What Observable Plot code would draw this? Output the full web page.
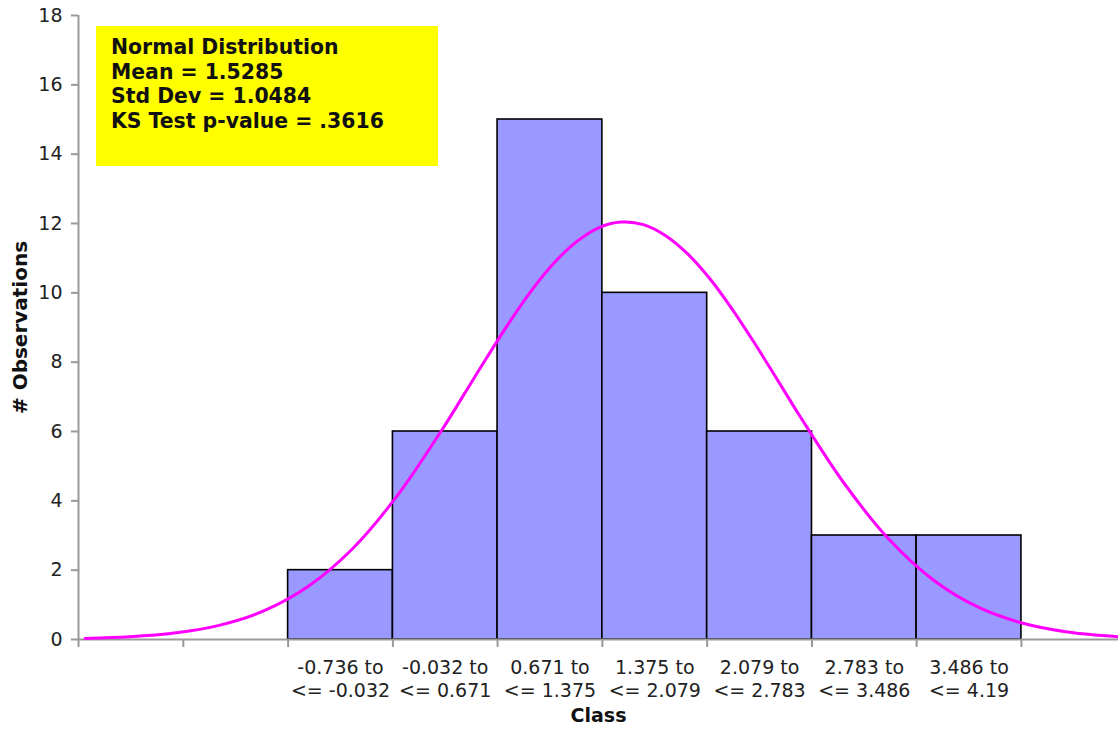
<!DOCTYPE html>
<html>
<head>
<meta charset="utf-8">
<script src="https://cdn.jsdelivr.net/npm/d3@7"></script>
<script src="https://cdn.jsdelivr.net/npm/@observablehq/plot@0.6"></script>
<style>
  html, body { margin: 0; padding: 0; background: #fff; }
  #wrap { position: relative; width: 1118px; height: 730px; }
  #stats {
    position: absolute; left: 96px; top: 26px; width: 327px; height: 131px;
    padding: 9px 0 0 15px; background: #ffff00; color: #111;
    font: bold 20.4px "DejaVu Sans", sans-serif; line-height: 24.7px;
  }
</style>
</head>
<body>
<div id="wrap"></div>
<script>
// Histogram classes: lower/upper bounds and observation counts
const classLow  = [-0.736, -0.032, 0.671, 1.375, 2.079, 2.783, 3.486];
const classHigh = [-0.032, 0.671, 1.375, 2.079, 2.783, 3.486, 4.19];
const counts    = [2, 6, 15, 10, 6, 3, 3];
const classLabels = [
  "-0.736 to\n<= -0.032", "-0.032 to\n<= 0.671", "0.671 to\n<= 1.375",
  "1.375 to\n<= 2.079", "2.079 to\n<= 2.783", "2.783 to\n<= 3.486", "3.486 to\n<= 4.19"
];
// Two empty classes below the first bin, plus all class boundaries
const axisEdges = [-2.144, -1.44, -0.736, -0.032, 0.671, 1.375, 2.079, 2.783, 3.486, 4.19];
const xDomain = [-2.144, 4.842];
const yTicks = [0, 2, 4, 6, 8, 10, 12, 14, 16, 18];

// Fitted normal curve (expected counts per class width)
const curveX = [-2.1, -1.8, -1.5, -1.2, -0.9, -0.6, -0.3, 0, 0.3, 0.45, 0.6, 0.75, 0.9, 1.05, 1.2, 1.35, 1.5, 1.65, 1.8, 1.95, 2.1, 2.25, 2.4, 2.55, 2.7, 3.0, 3.3, 3.6, 3.9, 4.2, 4.5, 4.84];
const curveY = [0.03, 0.078, 0.186, 0.408, 0.824, 1.535, 2.633, 4.163, 6.065, 7.099, 8.141, 9.146, 10.07, 10.858, 11.47, 11.877, 12.04, 11.969, 11.65, 11.115, 10.39, 9.509, 8.53, 7.496, 6.455, 4.50, 2.89, 1.711, 0.933, 0.469, 0.217, 0.082];

const statLines = ["Normal Distribution", "Mean = 1.5285", "Std Dev = 1.0484", "KS Test p-value = .3616"];

const bins = counts.map((c, i) => ({
  lo: classLow[i], hi: classHigh[i], count: c, label: classLabels[i],
  mid: (classLow[i] + classHigh[i]) / 2
}));
const curve = curveX.map((x, i) => ({x, y: curveY[i]}));

const font = '"DejaVu Sans", sans-serif';

const chart = Plot.plot({
  width: 1118,
  height: 730,
  marginLeft: 78,
  marginRight: 0,
  marginTop: 15,
  marginBottom: 91,
  style: {fontFamily: font, fontSize: "19px", color: "#222", overflow: "visible"},
  x: {domain: xDomain},
  y: {domain: [0, 18]},
  marks: [
    Plot.rectY(bins, {x1: "lo", x2: "hi", y: "count", fill: "#9999ff", stroke: "#000", strokeWidth: 1.6}),
    Plot.ruleY([0], {stroke: "#999", strokeWidth: 2}),
    Plot.ruleX([xDomain[0]], {stroke: "#999", strokeWidth: 2}),
    Plot.axisY({ticks: yTicks, tickSize: 7, tickPadding: 9, stroke: "#999", strokeWidth: 2, label: null, fontSize: 19}),
    Plot.axisX({ticks: axisEdges, tickSize: 8, tickFormat: () => "", stroke: "#999", strokeWidth: 2, label: null}),
    Plot.line(curve, {x: "x", y: "y", curve: "catmull-rom", stroke: "#ff00ff", strokeWidth: 3}),
    Plot.text(bins, {x: "mid", y: 0, text: "label", lineAnchor: "top", dy: 18, lineHeight: 1.21, fontSize: 19, fill: "#222"}),
    Plot.text(["Class"], {frameAnchor: "bottom", dy: 82, text: d => d, fontWeight: "bold", fontSize: 19, fill: "#111"}),
    Plot.text(["# Observations"], {frameAnchor: "left", textAnchor: "middle", dx: -58, rotate: -90, text: d => d, fontWeight: "bold", fontSize: 20, fill: "#111"})
  ]
});

const wrap = document.getElementById("wrap");
wrap.appendChild(chart);
const box = document.createElement("div");
box.id = "stats";
box.innerHTML = statLines.map(s => `<div>${s}</div>`).join("");
wrap.appendChild(box);
</script>
</body>
</html>
